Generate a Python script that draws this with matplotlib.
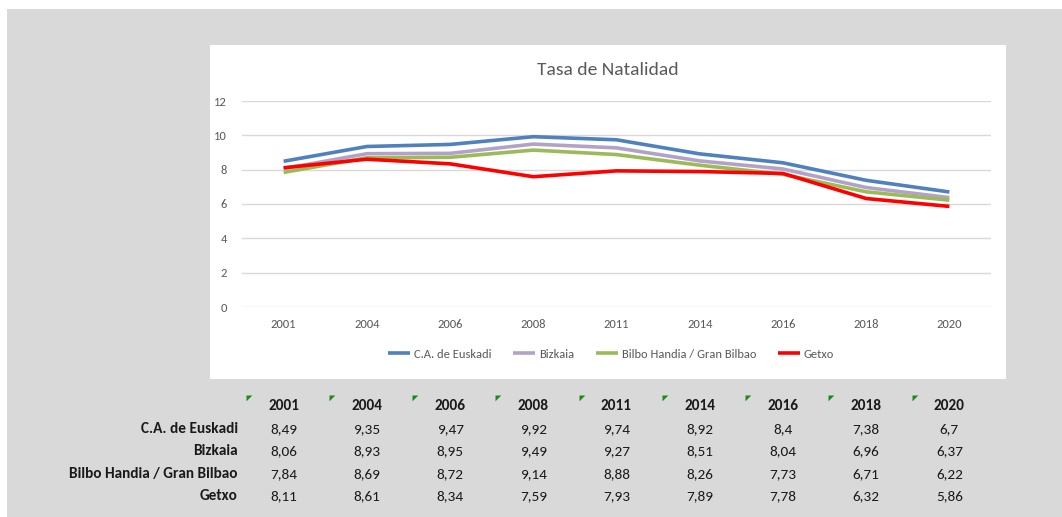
import numpy as np
import matplotlib
matplotlib.use("Agg")
import matplotlib.pyplot as plt
from matplotlib import font_manager
from matplotlib.patches import Rectangle

# ---- data -------------------------------------------------------------
years = ["2001", "2004", "2006", "2008", "2011", "2014", "2016", "2018", "2020"]
euskadi = [8.49, 9.35, 9.47, 9.92, 9.74, 8.92, 8.4, 7.38, 6.7]
bizkaia = [8.06, 8.93, 8.95, 9.49, 9.27, 8.51, 8.04, 6.96, 6.37]
bilbao = [7.84, 8.69, 8.72, 9.14, 8.88, 8.26, 7.73, 6.71, 6.22]
getxo = [8.11, 8.61, 8.34, 7.59, 7.93, 7.89, 7.78, 6.32, 5.86]
labels = ["C.A. de Euskadi", "Bizkaia", "Bilbo Handia / Gran Bilbao", "Getxo"]
colors = ["#4f81bd", "#b3a2c7", "#9bbb59", "#ff0000"]
yticks = [0, 2, 4, 6, 8, 10, 12]

series = [euskadi, bizkaia, bilbao, getxo]

# narrow font like Calibri if we have one
names = {f.name for f in font_manager.fontManager.ttflist}
fam = "DejaVu Sans"
for cand in ["Carlito", "Liberation Sans Narrow", "Lato", "Open Sans"]:
    if cand in names:
        fam = cand
        break
plt.rcParams['font.family'] = [fam, 'DejaVu Sans']

W, H = 1062, 517
def fx(x): return x / W
def fy(y): return 1 - y / H

fig = plt.figure(figsize=(W / 100, H / 100), dpi=100, facecolor="white")

# gray sheet + white chart box (behind the axes)
fig.patches.append(Rectangle((fx(7), 0), 1 - fx(7), fy(9), transform=fig.transFigure,
                             facecolor="#d9d9d9", edgecolor="none", zorder=-2))
fig.patches.append(Rectangle((fx(210), fy(379)), fx(1006) - fx(210), fy(45) - fy(379),
                             transform=fig.transFigure, facecolor="white",
                             edgecolor="none", zorder=-1))

# ---- chart ------------------------------------------------------------
ax = fig.add_axes([fx(242), fy(307), fx(991) - fx(242), fy(101) - fy(307)])
ax.set_facecolor("none")
x = np.arange(len(years))
for s, lab, c in zip(series, labels, colors):
    ax.plot(x, s, color=c, lw=2.6, label=lab, solid_capstyle="butt", zorder=3)

ax.set_xlim(-0.5, len(years) - 0.5)
ax.set_ylim(0, 12)
ax.set_yticks(yticks)
ax.set_xticks(x)
ax.set_xticklabels(years)
ax.grid(axis="y", color="#d9d9d9", lw=1)
for sp in ax.spines.values():
    sp.set_visible(False)
ax.tick_params(length=0, labelsize=9, labelcolor="#595959")
ax.tick_params(axis="y", pad=11)
ax.tick_params(axis="x", pad=9)

fig.text(fx(608), fy(70), "Tasa de Natalidad", ha="center", va="center",
         fontsize=14, color="#595959")

fig.legend(loc="center", bbox_to_anchor=(fx(611), fy(354)), ncol=4, frameon=False,
           fontsize=9, handlelength=1.8, handletextpad=0.3, columnspacing=1.7,
           labelcolor="#595959")

# ---- table below ------------------------------------------------------
tax = fig.add_axes([fx(242), fy(510), fx(991) - fx(242), fy(385) - fy(510)])
tax.set_xlim(-0.5, len(years) - 0.5)
tax.set_ylim(510, 385)
tax.axis("off")

# little green "error" flags in the header cells
tax.scatter(x - 0.5 + 0.045, [395] * len(x), marker=[(0, 0), (1, 0), (0, -1)],
            s=70, color="#1a8a1a", clip_on=False, linewidths=0)
for i, yr in enumerate(years):
    tax.text(i, 406, yr, ha="center", va="center", fontsize=11, fontweight="bold",
             color="#1a1a1a")
row_y = [429, 451, 474, 496]
for r, (s, lab) in enumerate(zip(series, labels)):
    tax.text(-0.55, row_y[r], lab, ha="right", va="center", fontsize=11,
             fontweight="bold", color="#1a1a1a", clip_on=False)
    for i, v in enumerate(s):
        tax.text(i, row_y[r], ("%g" % v).replace(".", ","), ha="center", va="center",
                 fontsize=11, color="#1a1a1a")

fig.savefig("out.png", dpi=100, facecolor=fig.get_facecolor())
